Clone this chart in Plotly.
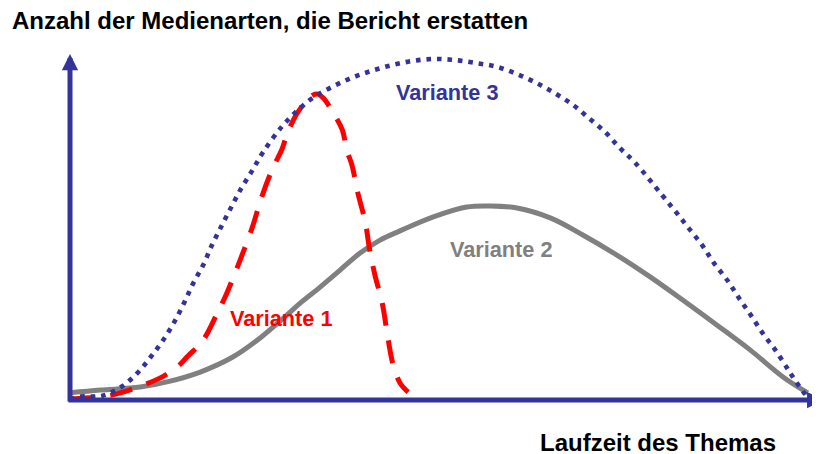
import plotly.graph_objects as go

# Laufzeit (0..100) and Anzahl der Medienarten (0..100)
v3_x = [0, 1.4, 4.3, 6.9, 9.1, 10.9, 12.6, 14.1, 15.4, 16.6, 18.0, 19.2, 20.4, 21.8, 23.1, 24.6, 26.1,
        28.6, 30.7, 32.8, 35.4, 38.0, 40.7, 43.5, 46.2, 49.1, 52.0, 54.9, 57.7, 60.4, 63.0, 65.5, 68.0,
        70.1, 72.3, 74.3, 76.4, 80.0, 81.9, 83.6, 85.4, 87.0, 88.8, 90.4, 92.0, 93.6, 95.3, 96.9, 97.7,
        99.3, 100]
v3_y = [0.2, 1.0, 1.2, 3.8, 7.9, 12.6, 17.6, 22.9, 28.4, 34.0, 39.6, 45.5, 50.7, 56.6, 61.9, 67.2, 72.7,
        80.1, 84.8, 88.6, 91.8, 94.4, 96.5, 98.2, 99.4, 100.0, 99.7, 98.8, 97.7, 95.6, 93.0, 90.0, 86.5,
        82.7, 78.6, 73.9, 69.5, 60.1, 55.1, 50.4, 45.5, 40.2, 35.2, 29.9, 24.9, 19.6, 14.7, 9.4, 6.7,
        1.8, 0.3]

v1_x = [0.3, 5.0, 6.8, 9.9, 12.2, 14.5, 15.8, 18.0, 19.9, 20.9, 22.3, 23.0, 24.6, 25.9, 27.4, 28.6,
        29.3, 30.4, 31.8, 32.8, 33.5, 34.2, 35.5, 36.8, 37.4, 38.1, 38.9, 39.9, 40.5, 41.2, 42.2, 42.8,
        43.6, 44.6, 45.7]
v1_y = [0.3, 1.2, 2.1, 4.4, 6.5, 9.7, 12.6, 17.6, 25.5, 29.9, 37.2, 41.1, 50.4, 59.5, 68.0, 73.3,
        77.7, 83.0, 87.4, 89.4, 89.7, 88.6, 84.5, 79.2, 73.3, 68.9, 60.7, 52.2, 44.0, 36.7, 28.4, 20.5,
        10.9, 5.0, 2.3]

v2_x = [0, 4.1, 9.5, 13.1, 17.6, 22.0, 25.7, 29.3, 31.1, 33.8, 36.5, 39.2, 41.9, 44.6, 49.1, 53.6,
        56.8, 60.4, 64.9, 69.3, 73.9, 78.4, 82.8, 87.4, 91.9, 96.4, 99.7]
v2_y = [2.1, 2.9, 3.8, 5.3, 8.2, 12.6, 18.2, 24.9, 28.4, 33.1, 38.1, 43.1, 46.9, 49.6, 53.7, 56.6,
        56.9, 56.3, 53.4, 48.4, 42.5, 36.1, 29.3, 22.0, 14.7, 6.7, 2.1]

title = "Anzahl der Medienarten, die Bericht erstatten"
xlabel = "Laufzeit des Themas"
xlabel_short = "t"
labels = ["Variante 1", "Variante 2", "Variante 3"]

NAVY = "#333399"
RED = "#FF0000"
GRAY = "#808080"
FONT = "Liberation Sans, Arial, sans-serif"

# the page body adds an 8px offset; the figure fills the rest of the window
W, H, OFF = 812, 446, 8


def px(xp):
    return (xp - OFF) / W


def py(yp):
    return 1 - (yp - OFF) / H


fig = go.Figure()
fig.add_trace(go.Scatter(x=v2_x, y=v2_y, mode="lines", line=dict(color=GRAY, width=5, shape="spline"),
                         hoverinfo="skip"))
fig.add_trace(go.Scatter(x=v1_x, y=v1_y, mode="lines",
                         line=dict(color=RED, width=5, dash="23px,15px", shape="spline"), hoverinfo="skip"))
fig.add_trace(go.Scatter(x=v3_x, y=v3_y, mode="lines",
                         line=dict(color=NAVY, width=4.6, dash="4.6px,5.9px", shape="spline"),
                         hoverinfo="skip"))

# axes drawn as arrows
fig.add_annotation(x=101.8, y=0, ax=-0.4, ay=0, xref="x", yref="y", axref="x", ayref="y",
                   showarrow=True, arrowhead=2, arrowsize=0.65, arrowwidth=5, arrowcolor=NAVY, text="")
fig.add_annotation(x=0, y=101.5, ax=0, ay=-0.9, xref="x", yref="y", axref="x", ayref="y",
                   showarrow=True, arrowhead=2, arrowsize=0.65, arrowwidth=5, arrowcolor=NAVY, text="")

lab_font = dict(family=FONT, size=21.7, weight="bold")
fig.add_annotation(x=28.5, y=23.8, text=labels[0], showarrow=False, font=dict(lab_font, color=RED))
fig.add_annotation(x=58.2, y=44.0, text=labels[1], showarrow=False, font=dict(lab_font, color=GRAY))
fig.add_annotation(x=50.9, y=90.3, text=labels[2], showarrow=False, font=dict(lab_font, color=NAVY))

fig.add_annotation(x=px(10), y=py(21), xref="paper", yref="paper", xanchor="left", yanchor="middle",
                   text=title, showarrow=False, font=dict(family=FONT, size=24, weight="bold", color="black"))
fig.add_annotation(x=px(658), y=py(442), xref="paper", yref="paper", xanchor="center",
                   yanchor="middle", text=xlabel, showarrow=False,
                   font=dict(family=FONT, size=24, weight="bold", color="black"))
fig.add_annotation(x=px(810), y=py(442), xref="paper", yref="paper", xanchor="left",
                   yanchor="middle", text=xlabel_short, showarrow=False,
                   font=dict(family=FONT, size=24, weight="bold", color="black"))

X0, Y0 = 70, 400  # page pixel of the origin
fig.update_layout(
    width=W, height=H, margin=dict(l=0, r=0, t=0, b=0),
    paper_bgcolor="white", plot_bgcolor="white", showlegend=False,
    xaxis=dict(range=[-(X0 - OFF) / 7.4, (W + OFF - X0) / 7.4], visible=False, fixedrange=True),
    yaxis=dict(range=[-(H + OFF - Y0) / 3.41, (Y0 - OFF) / 3.41], visible=False, fixedrange=True),
)

fig.write_html("out.html")
